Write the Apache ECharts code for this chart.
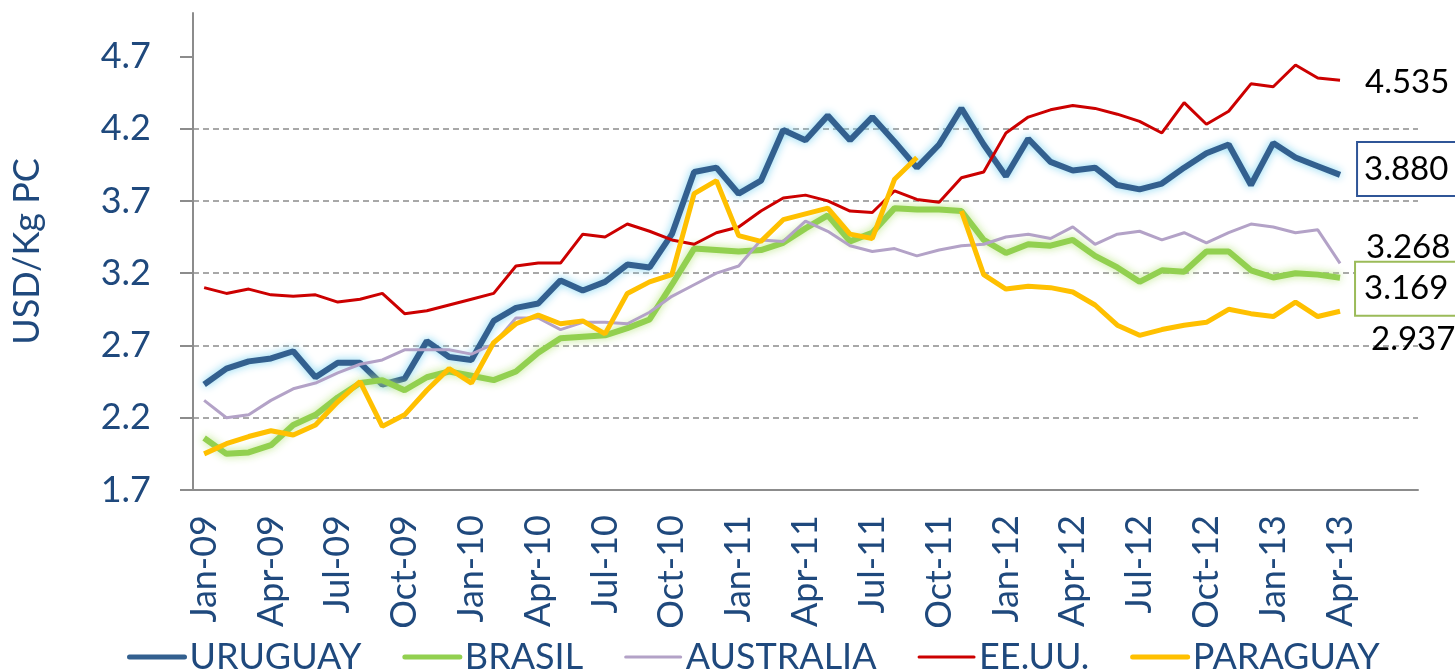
<!DOCTYPE html>
<html>
<head>
<meta charset="utf-8">
<title>USD/Kg PC</title>
<script src="https://cdn.jsdelivr.net/npm/echarts@6/dist/echarts.min.js"></script>
<style>
  html, body { margin: 0; padding: 0; background: #fff; }
  #chart { width: 1455px; height: 671px; }
</style>
</head>
<body>
<div id="chart"></div>
<script>
// meses (el eje sigue hasta Jul-13, los datos terminan en Apr-13)
var months = ['Jan-09','Feb-09','Mar-09','Apr-09','May-09','Jun-09','Jul-09','Aug-09','Sep-09','Oct-09','Nov-09','Dec-09',
  'Jan-10','Feb-10','Mar-10','Apr-10','May-10','Jun-10','Jul-10','Aug-10','Sep-10','Oct-10','Nov-10','Dec-10',
  'Jan-11','Feb-11','Mar-11','Apr-11','May-11','Jun-11','Jul-11','Aug-11','Sep-11','Oct-11','Nov-11','Dec-11',
  'Jan-12','Feb-12','Mar-12','Apr-12','May-12','Jun-12','Jul-12','Aug-12','Sep-12','Oct-12','Nov-12','Dec-12',
  'Jan-13','Feb-13','Mar-13','Apr-13','May-13','Jun-13','Jul-13'];
var yTicks = [1.7, 2.2, 2.7, 3.2, 3.7, 4.2, 4.7];

var uruguay = [2.43,2.54,2.59,2.61,2.66,2.48,2.58,2.58,2.43,2.47,2.73,2.62,
  2.60,2.87,2.96,2.99,3.15,3.08,3.14,3.26,3.24,3.47,3.90,3.93,
  3.75,3.84,4.19,4.12,4.29,4.12,4.28,4.11,3.93,4.09,4.34,4.09,
  3.87,4.13,3.97,3.91,3.93,3.81,3.78,3.82,3.93,4.03,4.09,3.81,
  4.10,4.00,3.94,3.880];
var brasil = [2.06,1.95,1.96,2.01,2.15,2.22,2.34,2.44,2.46,2.39,2.48,2.52,
  2.49,2.46,2.52,2.65,2.75,2.76,2.77,2.82,2.88,3.12,3.37,3.36,
  3.35,3.36,3.41,3.51,3.60,3.42,3.48,3.65,3.64,3.64,3.63,3.43,
  3.34,3.40,3.39,3.43,3.32,3.24,3.14,3.22,3.21,3.35,3.35,3.22,
  3.17,3.20,3.19,3.169];
var australia = [2.32,2.20,2.22,2.32,2.40,2.44,2.51,2.57,2.60,2.67,2.67,2.67,
  2.64,2.71,2.89,2.89,2.81,2.86,2.86,2.85,2.93,3.04,3.12,3.20,
  3.25,3.43,3.42,3.56,3.49,3.39,3.35,3.37,3.32,3.36,3.39,3.40,
  3.45,3.47,3.44,3.52,3.40,3.47,3.49,3.43,3.48,3.41,3.48,3.54,
  3.52,3.48,3.50,3.268];
var eeuu = [3.10,3.06,3.09,3.05,3.04,3.05,3.00,3.02,3.06,2.92,2.94,2.98,
  3.02,3.06,3.25,3.27,3.27,3.47,3.45,3.54,3.49,3.43,3.40,3.48,
  3.52,3.63,3.72,3.74,3.70,3.63,3.62,3.77,3.71,3.69,3.86,3.90,
  4.17,4.28,4.33,4.36,4.34,4.30,4.25,4.17,4.38,4.23,4.32,4.51,
  4.49,4.64,4.55,4.535];
var paraguay = [1.95,2.02,2.07,2.11,2.08,2.15,2.31,2.45,2.14,2.22,2.39,2.54,
  2.44,2.72,2.85,2.91,2.85,2.87,2.78,3.06,3.14,3.19,3.75,3.84,
  3.46,3.42,3.57,3.61,3.65,3.47,3.44,3.85,4.00,null,3.63,3.19,
  3.09,3.11,3.10,3.07,2.98,2.84,2.77,2.81,2.84,2.86,2.95,2.92,
  2.90,3.00,2.90,2.937];

var FONT = 'Lato';
var TXT = '#1F497D';
var GRIS = '#8C8C8C';

function endLbl(extra) {
  var o = {
    show: true,
    color: '#000',
    fontFamily: FONT,
    fontSize: 33,
    formatter: function (p) { return p.value.toFixed(3); }
  };
  for (var k in extra) o[k] = extra[k];
  return o;
}

var myChart = echarts.init(document.getElementById('chart'));
var option = {
  animation: false,
  textStyle: { fontFamily: FONT },
  grid: { left: 193, right: 37, top: 13, bottom: 181 },
  legend: {
    top: 634,
    left: 122,
    itemWidth: 55,
    itemHeight: 14,
    itemGap: 41,
    itemStyle: { color: 'transparent', borderColor: 'transparent', borderWidth: 0 },
    textStyle: { color: TXT, fontSize: 36, fontFamily: FONT },
    data: [
      { name: 'URUGUAY', lineStyle: { width: 5, cap: 'round' } },
      { name: 'BRASIL', lineStyle: { width: 5, cap: 'round' } },
      { name: 'AUSTRALIA', lineStyle: { width: 3, cap: 'round' } },
      { name: 'EE.UU.', lineStyle: { width: 3, cap: 'round' } },
      { name: 'PARAGUAY', lineStyle: { width: 5, cap: 'round' } }
    ]
  },
  xAxis: {
    type: 'category',
    boundaryGap: true,
    data: months,
    axisLine: { lineStyle: { color: GRIS, width: 2 } },
    axisTick: { interval: 2, length: 13, lineStyle: { color: GRIS, width: 2 } },
    axisLabel: {
      interval: function (i) { return i % 3 === 0 && i <= 51; },
      rotate: 90,
      margin: 25,
      color: TXT,
      fontSize: 36,
      fontFamily: FONT
    },
    splitLine: { show: false }
  },
  yAxis: {
    type: 'value',
    min: 1.7,
    max: 5.0,
    interval: 0.5,
    name: 'USD/Kg PC',
    nameLocation: 'middle',
    nameRotate: 90,
    nameGap: 148,
    nameTextStyle: { color: TXT, fontSize: 36, fontFamily: FONT },
    axisLine: { show: true, lineStyle: { color: GRIS, width: 2 } },
    axisTick: { show: true, length: 13, customValues: yTicks, lineStyle: { color: GRIS, width: 2 } },
    axisLabel: {
      customValues: yTicks,
      margin: 42,
      color: TXT,
      fontSize: 36,
      fontFamily: FONT,
      formatter: function (v) { return v.toFixed(1); }
    },
    splitLine: {
      show: true,
      showMinLine: false,
      showMaxLine: false,
      lineStyle: { color: GRIS, type: [6, 4], width: 1.5 }
    }
  },
  series: [{
    name: 'URUGUAY',
    type: 'line',
    symbol: 'none',
    data: uruguay,
    color: '#33608F',
    lineStyle: { width: 6, color: '#33608F', shadowColor: 'rgba(120,210,240,0.95)', shadowBlur: 9 },
    endLabel: endLbl({ offset: [10, -6], borderColor: '#2F5597', borderWidth: 2, backgroundColor: '#fff', padding: [11, 17, 8, 6] })
  }, {
    name: 'BRASIL',
    type: 'line',
    symbol: 'none',
    data: brasil,
    color: '#92D050',
    lineStyle: { width: 6, color: '#92D050', shadowColor: 'rgba(185,230,130,0.95)', shadowBlur: 9 },
    endLabel: endLbl({ offset: [8, 11], borderColor: '#9BBB59', borderWidth: 2, backgroundColor: '#fff', padding: [11, 17, 8, 8] })
  }, {
    name: 'AUSTRALIA',
    type: 'line',
    symbol: 'none',
    data: australia,
    color: '#B3A2C7',
    lineStyle: { width: 3, color: '#B3A2C7' },
    endLabel: endLbl({ offset: [18, -16] })
  }, {
    name: 'EE.UU.',
    type: 'line',
    symbol: 'none',
    data: eeuu,
    color: '#CC0000',
    lineStyle: { width: 3, color: '#CC0000' },
    endLabel: endLbl({ offset: [17, 2] })
  }, {
    name: 'PARAGUAY',
    type: 'line',
    symbol: 'none',
    data: paraguay,
    color: '#FFC000',
    lineStyle: { width: 5, color: '#FFC000' },
    endLabel: endLbl({ offset: [23, 28] })
  }]
};
myChart.setOption(option);
</script>
</body>
</html>
